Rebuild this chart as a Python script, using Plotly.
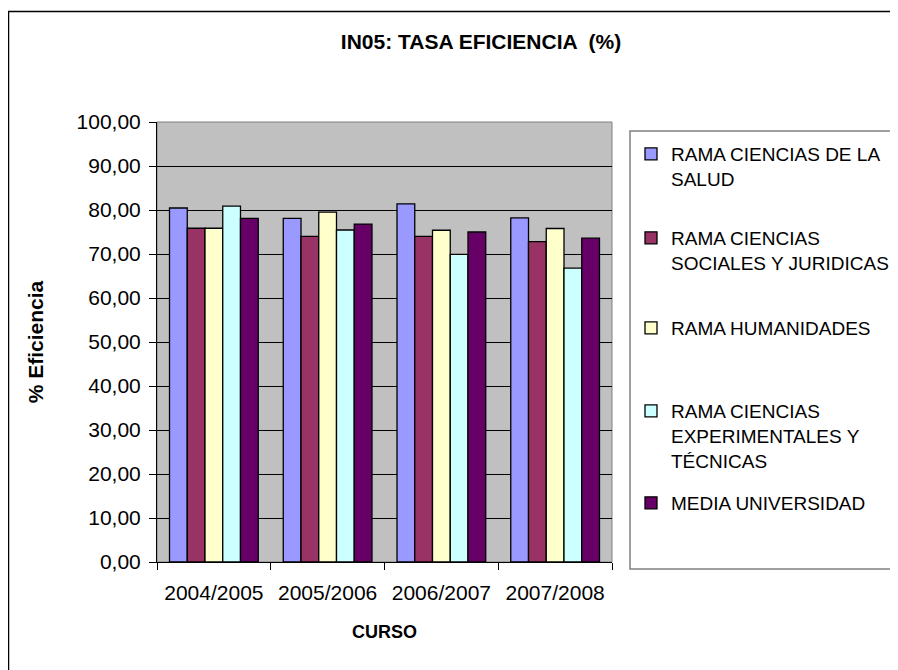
import plotly.graph_objects as go

cursos = ["2004/2005", "2005/2006", "2006/2007", "2007/2008"]
series_names = [
    "RAMA CIENCIAS DE LA<br>SALUD",
    "RAMA CIENCIAS<br>SOCIALES Y JURIDICAS",
    "RAMA HUMANIDADES",
    "RAMA CIENCIAS<br>EXPERIMENTALES Y<br>TÉCNICAS",
    "MEDIA UNIVERSIDAD",
]
salud = [80.45, 78.10, 81.40, 78.20]
sociales = [75.85, 74.00, 74.00, 72.80]
humanidades = [75.85, 79.50, 75.40, 75.80]
experimentales = [80.90, 75.45, 69.90, 66.80]
media = [78.10, 76.80, 75.00, 73.60]
colors = ["#9999FF", "#993366", "#FFFFCC", "#CCFFFF", "#660066"]

values = [salud, sociales, humanidades, experimentales, media]

FONT = "Arial, 'Liberation Sans', sans-serif"

# page is drawn with an 8px body margin; figure coords = screen - 8
W, H = 898, 670
L, R, T, B = 149, 294, 114, 116
pw = W - L - R
ph = H - T - B

def px2x(px):
    return (px - L) / pw

def py2y(py):
    return (H - B - py) / ph

legend_keys = ["legend", "legend2", "legend3", "legend4", "legend5"]
# top of each legend entry (figure px)
legend_tops = [127, 211, 301, 384, 476]

fig = go.Figure()
for i, (name, vals, col) in enumerate(zip(series_names, values, colors)):
    fig.add_trace(go.Bar(
        x=cursos, y=vals, name=name, legend=legend_keys[i],
        marker=dict(color=col, line=dict(color="black", width=1.3)),
    ))

legend_layout = {}
for key, top in zip(legend_keys, legend_tops):
    legend_layout[key] = dict(
        x=px2x(623), xanchor="left",
        y=py2y(top), yanchor="top",
        font=dict(size=19, family=FONT, color="black"),
        bgcolor="rgba(0,0,0,0)",
        borderwidth=0,
        valign="top",
        itemwidth=30,
    )

fig.update_layout(
    width=W, height=H,
    margin=dict(l=L, r=R, t=T, b=B, autoexpand=False),
    paper_bgcolor="white",
    plot_bgcolor="#C0C0C0",
    separators=",.",
    barmode="group",
    bargap=0.22,
    bargroupgap=0,
    showlegend=True,
    font=dict(family=FONT, color="black"),
    title=dict(
        text="<b>IN05: TASA EFICIENCIA  (%)</b>",
        x=473 / W, xanchor="center",
        y=1 - 34 / H, yanchor="middle",
        font=dict(size=21, family=FONT, color="black"),
    ),
    xaxis=dict(
        type="category",
        showline=True, linecolor="black", linewidth=1,
        ticks="outside", tickson="boundaries", ticklen=7, tickcolor="black",
        tickfont=dict(size=21, family=FONT),
        ticklabelstandoff=12,
        title=dict(text="<b>CURSO</b>", font=dict(size=18, family=FONT), standoff=22),
        showgrid=False,
    ),
    yaxis=dict(
        range=[0, 100], dtick=10, tickformat=".2f",
        showline=True, linecolor="black", linewidth=1,
        ticks="outside", ticklen=7, tickcolor="black",
        tickfont=dict(size=21, family=FONT),
        ticklabelstandoff=4,
        showgrid=True, gridcolor="black", gridwidth=1,
        zeroline=False,
        title=dict(text="<b>% Eficiencia</b>", font=dict(size=21, family=FONT), standoff=27),
    ),
    shapes=[
        # plot area border
        dict(type="rect", xref="paper", yref="paper", x0=0, x1=1, y0=0, y1=1,
             line=dict(color="#808080", width=1), layer="below"),
        # legend box
        dict(type="rect", xref="paper", yref="paper",
             x0=px2x(622), x1=px2x(910), y0=py2y(561), y1=py2y(123),
             line=dict(color="#808080", width=1.5), fillcolor="rgba(0,0,0,0)"),
        # chart outer border
        dict(type="rect", xref="paper", yref="paper",
             x0=px2x(0.5), x1=px2x(915), y0=py2y(690), y1=py2y(3.5),
             line=dict(color="black", width=1.5), fillcolor="rgba(0,0,0,0)"),
    ],
    **legend_layout,
)

fig.write_html("out.html")
